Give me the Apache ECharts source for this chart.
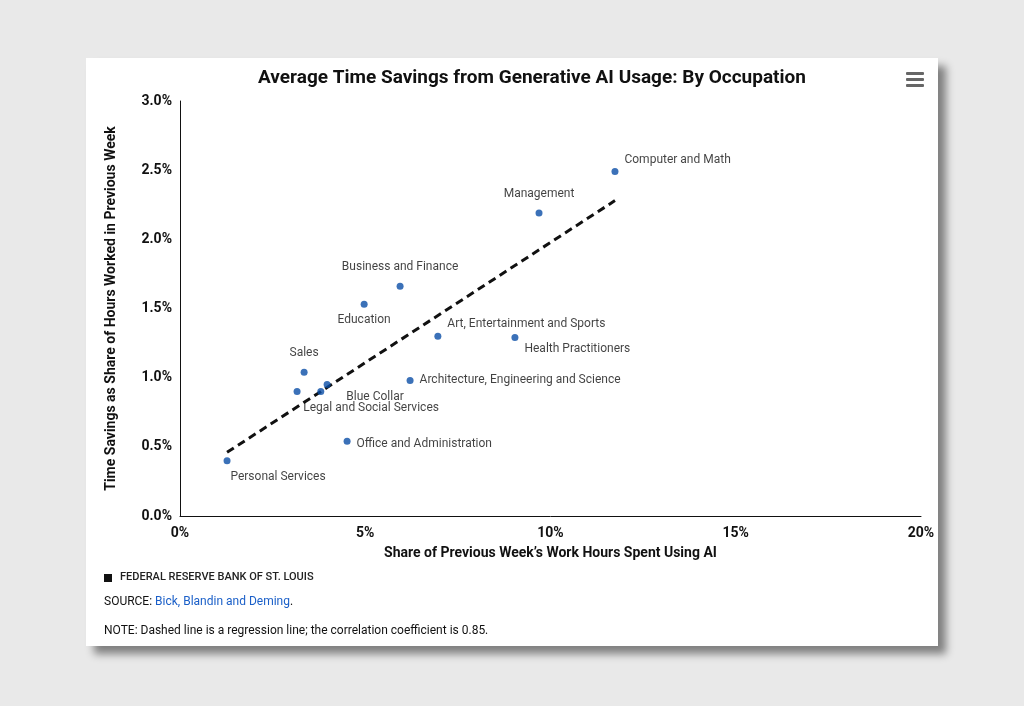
<!DOCTYPE html>
<html><head><meta charset="utf-8">
<script src="https://cdn.jsdelivr.net/npm/echarts@6/dist/echarts.min.js"></script>
<style>
body{margin:0;background:#e9e9e9;width:1024px;height:706px;overflow:hidden;font-family:Roboto,sans-serif}
#card{position:absolute;left:86px;top:58px;width:852px;height:588px;background:#fff;box-shadow:8px 8px 8px rgba(0,0,0,0.45)}
#chart{width:852px;height:588px}
</style></head><body>
<div id="card"><div id="chart"></div></div>
<script>
var names = ['Computer and Math','Management','Business and Finance','Education','Art, Entertainment and Sports','Health Practitioners','Sales','Architecture, Engineering and Science','Blue Collar','Legal and Social Services','','Office and Administration','Personal Services'];
var aiShare = [11.74, 9.69, 5.94, 4.97, 6.96, 9.04, 3.35, 6.21, 3.80, 3.97, 3.16, 4.51, 1.27];
var timeSaved = [2.49, 2.19, 1.66, 1.53, 1.30, 1.29, 1.04, 0.98, 0.90, 0.95, 0.90, 0.54, 0.40];
var labelPos = ['right','top','top','bottom','right','right','top','right','right','bottom','right','right','bottom'];
var labelOffset = [[0,-12],[0,-4],[0,-4],[0,0],[0,-12],[0,11],[0,-4],[0,0],[16,5],[44,8],[0,0],[0,3],[51,1]];
var regLine = [[1.27, 0.46], [11.74, 2.28]];

var chart = echarts.init(document.getElementById('chart'));
var pts = aiShare.map(function (x, i) {
  return {value: [x, timeSaved[i]], name: names[i],
    label: {position: labelPos[i], offset: labelOffset[i]}};
});
chart.setOption({
  animation: false,
  textStyle: {fontFamily: 'Roboto'},
  title: {text: 'Average Time Savings from Generative AI Usage: By Occupation', left: 167, top: 6,
    textStyle: {fontSize: 19, fontWeight: 'bold', color: '#111'}},
  grid: {left: 94, top: 43, width: 741, height: 415},
  xAxis: {type: 'value', min: 0, max: 20, interval: 5,
    name: 'Share of Previous Week\u2019s Work Hours Spent Using AI', nameLocation: 'middle', nameGap: 30,
    nameTextStyle: {fontWeight: 'bold', fontSize: 14, color: '#111'},
    axisLine: {lineStyle: {color: '#111'}}, axisTick: {show: false}, splitLine: {show: false},
    axisLabel: {formatter: '{value}%', fontWeight: 'bold', fontSize: 14, color: '#111', margin: 10}},
  yAxis: {type: 'value', min: 0, max: 3, interval: 0.5,
    name: 'Time Savings as Share of Hours Worked in Previous Week', nameLocation: 'middle', nameGap: 62,
    nameTextStyle: {fontWeight: 'bold', fontSize: 14, color: '#111'},
    axisLine: {show: true, lineStyle: {color: '#111'}}, axisTick: {show: false}, splitLine: {show: false},
    axisLabel: {formatter: function (v) { return v.toFixed(1) + '%'; }, fontWeight: 'bold', fontSize: 14, color: '#111'}},
  series: [
    {type: 'line', data: regLine, symbol: 'none', lineStyle: {type: [8, 5], width: 3, color: '#111'}, z: 1},
    {type: 'scatter', data: pts, symbolSize: 7, itemStyle: {color: '#0a4ea6'}, z: 2,
      label: {show: true, formatter: '{b}', fontSize: 12, color: '#111', distance: 6}}
  ],
  graphic: [
    {type: 'rect', left: 18, top: 516, shape: {width: 8, height: 8}, style: {fill: '#111'}},
    {type: 'text', left: 34, top: 514, style: {text: 'FEDERAL RESERVE BANK OF ST. LOUIS', font: '500 11px Roboto', fill: '#222', letterSpacing: 2}},
    {type: 'text', left: 18, top: 538, style: {rich: {a: {fontSize: 12, fill: '#111', fontFamily: 'Roboto'}, b: {fontSize: 12, fill: '#1a5fc8', fontFamily: 'Roboto'}},
      text: '{a|SOURCE: }{b|Bick, Blandin and Deming}{a|.}'}},
    {type: 'text', left: 18, top: 567, style: {text: 'NOTE: Dashed line is a regression line; the correlation coefficient is 0.85.', font: '12px Roboto', fill: '#111'}},
    {type: 'group', right: 14, top: 14, children: [
      {type: 'rect', shape: {x: 0, y: 0, width: 18, height: 3, r: 1}, style: {fill: '#666'}},
      {type: 'rect', shape: {x: 0, y: 6, width: 18, height: 3, r: 1}, style: {fill: '#666'}},
      {type: 'rect', shape: {x: 0, y: 12, width: 18, height: 3, r: 1}, style: {fill: '#666'}}
    ]}
  ]
});
</script></body></html>
